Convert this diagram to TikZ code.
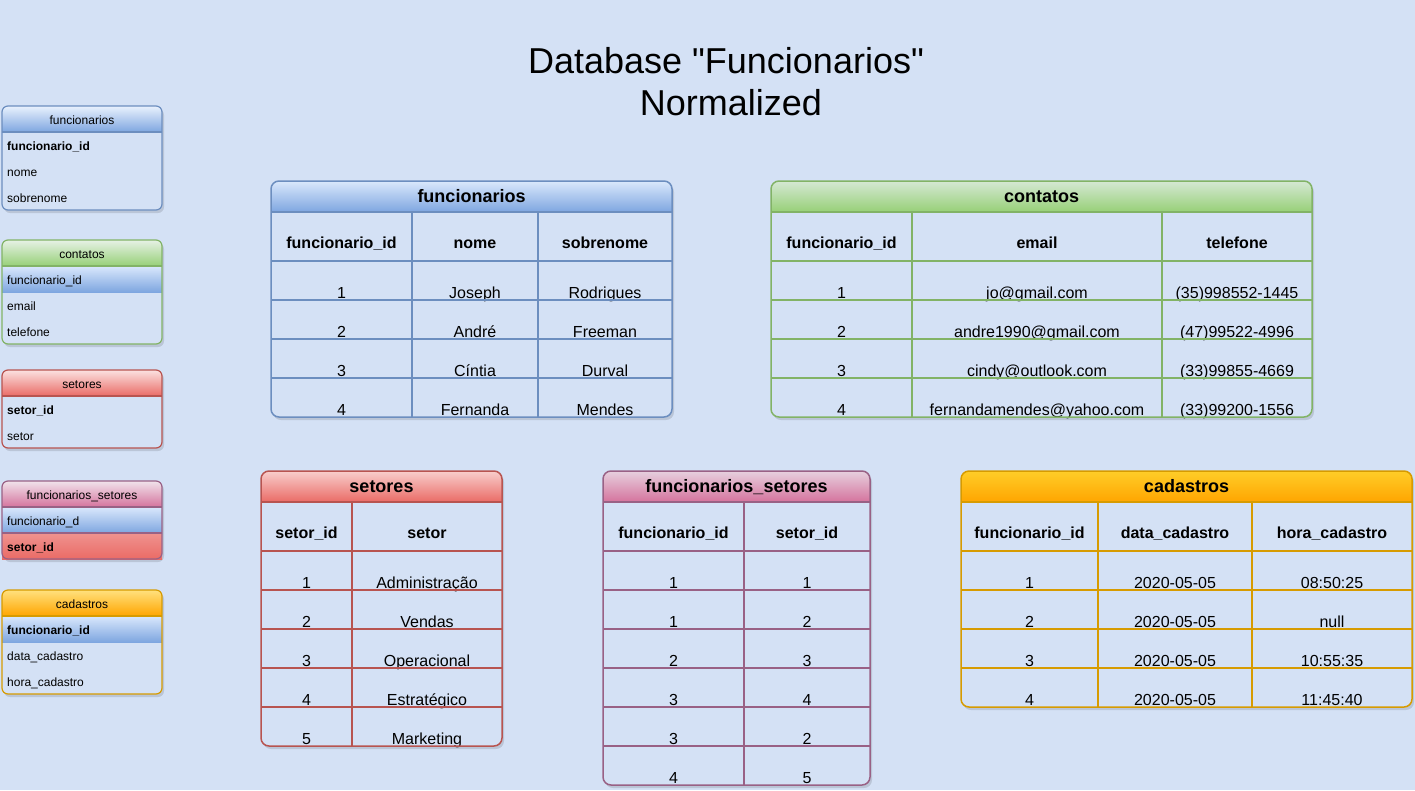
\documentclass[tikz,border=0pt]{standalone}
\usepackage{fontspec}
\setmainfont{Liberation Sans}
\usetikzlibrary{positioning}
\definecolor{bgpage}{HTML}{D4E1F5}
\definecolor{blueA}{HTML}{DAE8FC}
\definecolor{blueB}{HTML}{7EA6E0}
\definecolor{blueL}{HTML}{6C8EBF}
\definecolor{greenA}{HTML}{D5E8D4}
\definecolor{greenB}{HTML}{97D077}
\definecolor{greenL}{HTML}{82B366}
\definecolor{redA}{HTML}{F8CECC}
\definecolor{redB}{HTML}{EA6B66}
\definecolor{redL}{HTML}{B85450}
\definecolor{pinkA}{HTML}{E6D0DE}
\definecolor{pinkB}{HTML}{D5739D}
\definecolor{pinkL}{HTML}{996185}
\definecolor{yellowA}{HTML}{FFCD28}
\definecolor{yellowB}{HTML}{FFA500}
\definecolor{yellowL}{HTML}{D79B00}

\tikzset{
  pagetitle/.style={font=\fontsize{36}{43}\selectfont, anchor=base},
  tabtitle/.style={font=\fontsize{18}{22}\selectfont\bfseries, anchor=base},
  colhead/.style={font=\fontsize{16}{19}\selectfont\bfseries, anchor=base},
  cell/.style={font=\fontsize{16}{19}\selectfont, anchor=base},
  smalltitle/.style={font=\fontsize{12}{14}\selectfont, anchor=base},
  smallcell/.style={font=\fontsize{12}{14}\selectfont, anchor=base west, inner sep=0pt},
  gridline/.style={line width=1.5pt},
  frameline/.style={line width=1.5pt, rounded corners=8},
  smallline/.style={line width=1.2pt},
  shadowfill/.style={fill=black, opacity=0.12},
}

% big table: #1 name, #2 colour, #3 left, #4 right, #5 top, #6 bottom, #7 title
\newcommand{\bigframe}[7]{%
  \fill[shadowfill, rounded corners=8] (#3+2,#5+3) rectangle (#4+2,#6+3);
  \fill[bgpage, rounded corners=8] (#3,#5) rectangle (#4,#6);
  \begin{scope}
    \clip[rounded corners=8] (#3,#5) rectangle (#4,#6);
    \shade[top color=#2A, bottom color=#2B] (#3,#5) rectangle (#4,#5+31);
  \end{scope}
  \node[tabtitle] (#1) at ({(#3+#4)/2},#5+21) {#7};
}

% small table: #1 name, #2 colour, #3 top, #4 bottom, #5 title
\newcommand{\smallframe}[5]{%
  \fill[shadowfill, rounded corners=6] (4,#3+3) rectangle (164,#4+3);
  \fill[bgpage, rounded corners=6] (2,#3) rectangle (162,#4);
  \begin{scope}
    \clip[rounded corners=6] (2,#3) rectangle (162,#4);
    \shade[top color=white!40!#2A, bottom color=#2B] (2,#3) rectangle (162,#3+26);
  \end{scope}
  \node[smalltitle] (#1) at (82,#3+18) {#5};
}

\begin{document}
\begin{tikzpicture}[x=1pt, y=-1pt]
  \fill[bgpage] (0,0) rectangle (1415,790);

  % title
  \node[pagetitle] (title1) at (726,73) {Database \textquotedbl Funcionarios\textquotedbl};
  \node[pagetitle] (title2) at (731,115) {Normalized};

  % small tables on the left
  \smallframe{sfun}{blue}{106}{210}{funcionarios}
  \foreach \t [count=\i] in {{\bfseries funcionario\_id}, nome, sobrenome}
    \node[smallcell] (sfun-\i) at (7,106+18+26*\i) {\t};
  \draw[blueL, smallline] (2,132) -- (162,132);
  \draw[blueL, smallline, rounded corners=6] (2,106) rectangle (162,210);

  \smallframe{scon}{green}{240}{344}{contatos}
  \shade[top color=blueA, bottom color=blueB] (2,266) rectangle (162,292);
  \foreach \t [count=\i] in {funcionario\_id, email, telefone}
    \node[smallcell] (scon-\i) at (7,240+18+26*\i) {\t};
  \draw[greenL, smallline] (2,266) -- (162,266);
  \draw[greenL, smallline, rounded corners=6] (2,240) rectangle (162,344);

  \smallframe{sset}{red}{370}{448}{setores}
  \foreach \t [count=\i] in {{\bfseries setor\_id}, setor}
    \node[smallcell] (sset-\i) at (7,370+18+26*\i) {\t};
  \draw[redL, smallline] (2,396) -- (162,396);
  \draw[redL, smallline, rounded corners=6] (2,370) rectangle (162,448);

  \smallframe{sfs}{pink}{481}{559}{funcionarios\_setores}
  \shade[top color=blueA, bottom color=blueB] (2,507) rectangle (162,533);
  \shade[top color=redB!60!redA, bottom color=redB] (2,533) rectangle (162,559);
  \foreach \t [count=\i] in {funcionario\_d, {\bfseries setor\_id}}
    \node[smallcell] (sfs-\i) at (7,481+18+26*\i) {\t};
  \draw[pinkL, smallline] (2,507) -- (162,507);
  \draw[pinkL, smallline] (2,533) -- (162,533);
  \draw[pinkL, smallline, rounded corners=6] (2,481) rectangle (162,559);

  \smallframe{scad}{yellow}{590}{694}{cadastros}
  \shade[top color=blueA, bottom color=blueB] (2,616) rectangle (162,642);
  \foreach \t [count=\i] in {{\bfseries funcionario\_id}, data\_cadastro, hora\_cadastro}
    \node[smallcell] (scad-\i) at (7,590+18+26*\i) {\t};
  \draw[yellowL, smallline] (2,616) -- (162,616);
  \draw[yellowL, smallline, rounded corners=6] (2,590) rectangle (162,694);

  % funcionarios
  \bigframe{fun}{blue}{271}{672}{181}{417}{funcionarios}
  \foreach \t/\x [count=\k] in {funcionario\_id/341.5, nome/475, sobrenome/605}
    \node[colhead] (fun-h\k) at (\x,248) {\t};
  \foreach \va/\vb/\vc [count=\i] in {1/Joseph/Rodrigues, 2/André/Freeman,
      3/Cíntia/Durval, 4/Fernanda/Mendes} {
    \node[cell] (fun-\i-1) at (341.5,259+39*\i) {\va};
    \node[cell] (fun-\i-2) at (475,259+39*\i) {\vb};
    \node[cell] (fun-\i-3) at (605,259+39*\i) {\vc};
  }
  \foreach \y in {212,261,300,339,378} \draw[blueL, gridline] (271,\y) -- (672,\y);
  \foreach \x in {412,538} \draw[blueL, gridline] (\x,212) -- (\x,417);
  \draw[blueL, frameline] (271,181) rectangle (672,417);

  % contatos
  \bigframe{con}{green}{771}{1312}{181}{417}{contatos}
  \foreach \t/\x [count=\k] in {funcionario\_id/841.5, email/1037, telefone/1237}
    \node[colhead] (con-h\k) at (\x,248) {\t};
  \foreach \va/\vb/\vc [count=\i] in {1/jo@gmail.com/(35)998552-1445,
      2/andre1990@gmail.com/(47)99522-4996, 3/cindy@outlook.com/(33)99855-4669,
      4/fernandamendes@yahoo.com/(33)99200-1556} {
    \node[cell] (con-\i-1) at (841.5,259+39*\i) {\va};
    \node[cell] (con-\i-2) at (1037,259+39*\i) {\vb};
    \node[cell] (con-\i-3) at (1237,259+39*\i) {\vc};
  }
  \foreach \y in {212,261,300,339,378} \draw[greenL, gridline] (771,\y) -- (1312,\y);
  \foreach \x in {912,1162} \draw[greenL, gridline] (\x,212) -- (\x,417);
  \draw[greenL, frameline] (771,181) rectangle (1312,417);

  % setores
  \bigframe{set}{red}{261}{502}{471}{746}{setores}
  \foreach \t/\x [count=\k] in {setor\_id/306.5, setor/427}
    \node[colhead] (set-h\k) at (\x,538) {\t};
  \foreach \va/\vb [count=\i] in {1/Administração, 2/Vendas, 3/Operacional,
      4/Estratégico, 5/Marketing} {
    \node[cell] (set-\i-1) at (306.5,549+39*\i) {\va};
    \node[cell] (set-\i-2) at (427,549+39*\i) {\vb};
  }
  \foreach \y in {502,551,590,629,668,707} \draw[redL, gridline] (261,\y) -- (502,\y);
  \draw[redL, gridline] (352,502) -- (352,746);
  \draw[redL, frameline] (261,471) rectangle (502,746);

  % funcionarios_setores
  \bigframe{fs}{pink}{603}{870}{471}{785}{funcionarios\_setores}
  \foreach \t/\x [count=\k] in {funcionario\_id/673.5, setor\_id/807}
    \node[colhead] (fs-h\k) at (\x,538) {\t};
  \foreach \va/\vb [count=\i] in {1/1, 1/2, 2/3, 3/4, 3/2, 4/5} {
    \node[cell] (fs-\i-1) at (673.5,549+39*\i) {\va};
    \node[cell] (fs-\i-2) at (807,549+39*\i) {\vb};
  }
  \foreach \y in {502,551,590,629,668,707,746} \draw[pinkL, gridline] (603,\y) -- (870,\y);
  \draw[pinkL, gridline] (744,502) -- (744,785);
  \draw[pinkL, frameline] (603,471) rectangle (870,785);

  % cadastros
  \bigframe{cad}{yellow}{961}{1412}{471}{707}{cadastros}
  \foreach \t/\x [count=\k] in {funcionario\_id/1029.5, data\_cadastro/1175, hora\_cadastro/1332}
    \node[colhead] (cad-h\k) at (\x,538) {\t};
  \foreach \va/\vb/\vc [count=\i] in {1/2020-05-05/08:50:25, 2/2020-05-05/null,
      3/2020-05-05/10:55:35, 4/2020-05-05/11:45:40} {
    \node[cell] (cad-\i-1) at (1029.5,549+39*\i) {\va};
    \node[cell] (cad-\i-2) at (1175,549+39*\i) {\vb};
    \node[cell] (cad-\i-3) at (1332,549+39*\i) {\vc};
  }
  \foreach \y in {502,551,590,629,668} \draw[yellowL, gridline] (961,\y) -- (1412,\y);
  \foreach \x in {1098,1252} \draw[yellowL, gridline] (\x,502) -- (\x,707);
  \draw[yellowL, frameline] (961,471) rectangle (1412,707);
\end{tikzpicture}
\end{document}
